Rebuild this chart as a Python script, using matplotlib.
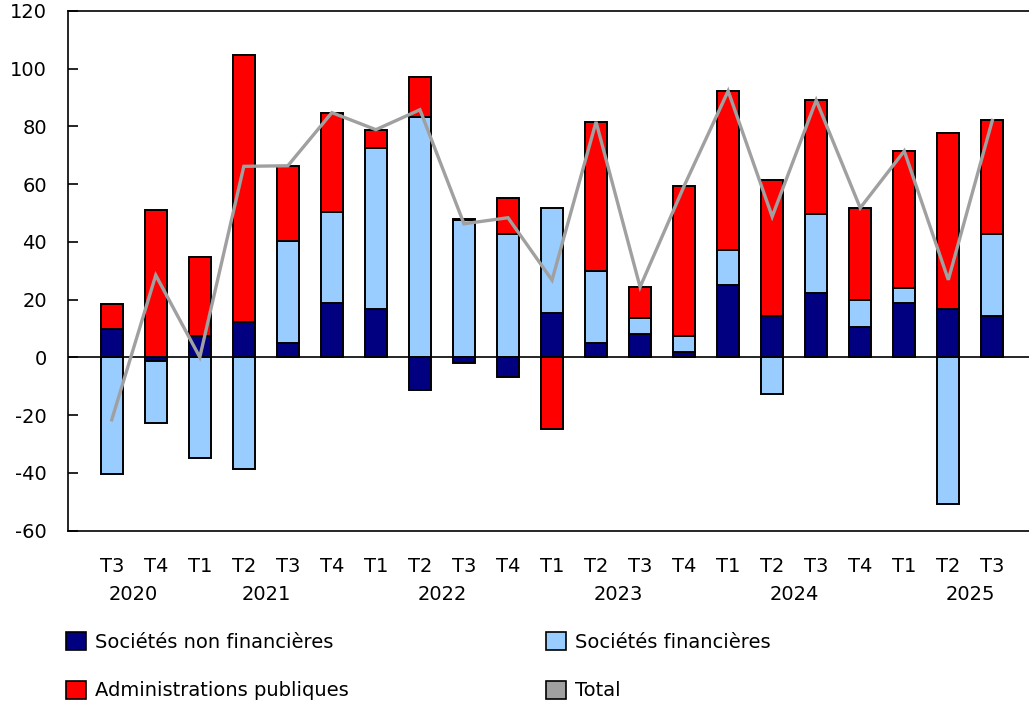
import matplotlib
matplotlib.use("Agg")
import matplotlib.pyplot as plt
from matplotlib.patches import Patch
from matplotlib.transforms import blended_transform_factory
import numpy as np

plt.rcParams['font.family'] = ['DejaVu Sans']
plt.rcParams['axes.unicode_minus'] = False

quarters = ['T3', 'T4', 'T1', 'T2', 'T3', 'T4', 'T1', 'T2', 'T3', 'T4', 'T1',
            'T2', 'T3', 'T4', 'T1', 'T2', 'T3', 'T4', 'T1', 'T2', 'T3']
years = ['2020', '2021', '2022', '2023', '2024', '2025']
year_pos = [0.5, 3.5, 7.5, 11.5, 15.5, 19.5]

# milliards de dollars
non_fin = [9.7, -1.1, 7.5, 12.2, 5.1, 18.8, 16.8, -11.2, -1.8, -6.8, 15.3,
           5.0, 8.1, 1.9, 25.1, 14.5, 22.3, 10.7, 18.9, 16.8, 14.3]
fin = [-40.2, -21.6, -34.7, -38.5, 35.4, 31.6, 55.9, 83.4, 47.5, 42.6, 36.3,
       24.9, 5.7, 5.6, 12.2, -12.6, 27.3, 9.2, 5.1, -50.8, 28.3]
admin = [8.9, 51.1, 27.3, 92.5, 25.9, 34.4, 6.2, 13.6, 0.6, 12.6, -24.8,
         51.7, 10.6, 51.9, 55.0, 46.9, 39.5, 31.9, 47.5, 60.9, 39.5]
total = [-21.6, 28.5, 0.1, 66.2, 66.4, 84.8, 78.9, 85.8, 46.3, 48.4, 26.8,
         81.6, 24.4, 59.4, 92.3, 48.8, 89.1, 51.8, 71.5, 26.9, 82.1]

series = [('Sociétés non financières', non_fin, '#000080'),
          ('Sociétés financières', fin, '#99ccff'),
          ('Administrations publiques', admin, '#ff0000')]
line_color = '#a0a0a0'
fs = 14

fig = plt.figure(figsize=(10.29, 7.04), dpi=100)
ax = fig.add_axes([67.7 / 1029, 1 - 530.7 / 704, 1 - 67.7 / 1029, (530.7 - 11) / 704])

x = np.arange(len(quarters))
pos_base = np.zeros(len(x))
neg_base = np.zeros(len(x))
for name, vals, col in series:
    v = np.array(vals)
    base = np.where(v >= 0, pos_base, neg_base)
    ax.bar(x, v, bottom=base, width=0.5, color=col, edgecolor='black', linewidth=1.4, zorder=2)
    pos_base = pos_base + np.where(v >= 0, v, 0)
    neg_base = neg_base + np.where(v < 0, v, 0)

ax.axhline(0, color='black', linewidth=1.2, zorder=3)
ax.plot(x, total, color=line_color, linewidth=2.4, zorder=4, solid_joinstyle='miter')

ax.set_xlim(-1, -1 + (1029 - 67.7) / 44.03)
ax.set_ylim(-60, 120)
ax.set_yticks(range(-60, 121, 20))
ax.tick_params(axis='y', direction='in', length=7, width=1.2, pad=15, labelsize=fs)
ax.set_xticks([])
for s in ['left', 'top', 'bottom']:
    ax.spines[s].set_linewidth(1.2)
ax.spines['right'].set_visible(False)

tr = blended_transform_factory(ax.transData, fig.transFigure)
for i, q in enumerate(quarters):
    ax.text(i, 1 - 566 / 704, q, transform=tr, ha='center', va='center', fontsize=fs)
for p, yr in zip(year_pos, years):
    ax.text(p, 1 - 594 / 704, yr, transform=tr, ha='center', va='center', fontsize=fs)

handles = [Patch(facecolor=c, edgecolor='black', linewidth=1.2, label=n) for n, _, c in series]
handles.append(Patch(facecolor=line_color, edgecolor='black', linewidth=1.2, label='Total'))

kw = dict(frameon=False, fontsize=fs, borderpad=0, handlelength=1.05, handleheight=1.05,
          handletextpad=0.45, labelspacing=1.5, borderaxespad=0)
fig.legend(handles=[handles[0], handles[2]], loc='upper left',
           bbox_to_anchor=(66 / 1029, 1 - 632 / 704), **kw)
fig.legend(handles=[handles[1], handles[3]], loc='upper left',
           bbox_to_anchor=(546 / 1029, 1 - 632 / 704), **kw)

fig.savefig('out.png', dpi=100)
